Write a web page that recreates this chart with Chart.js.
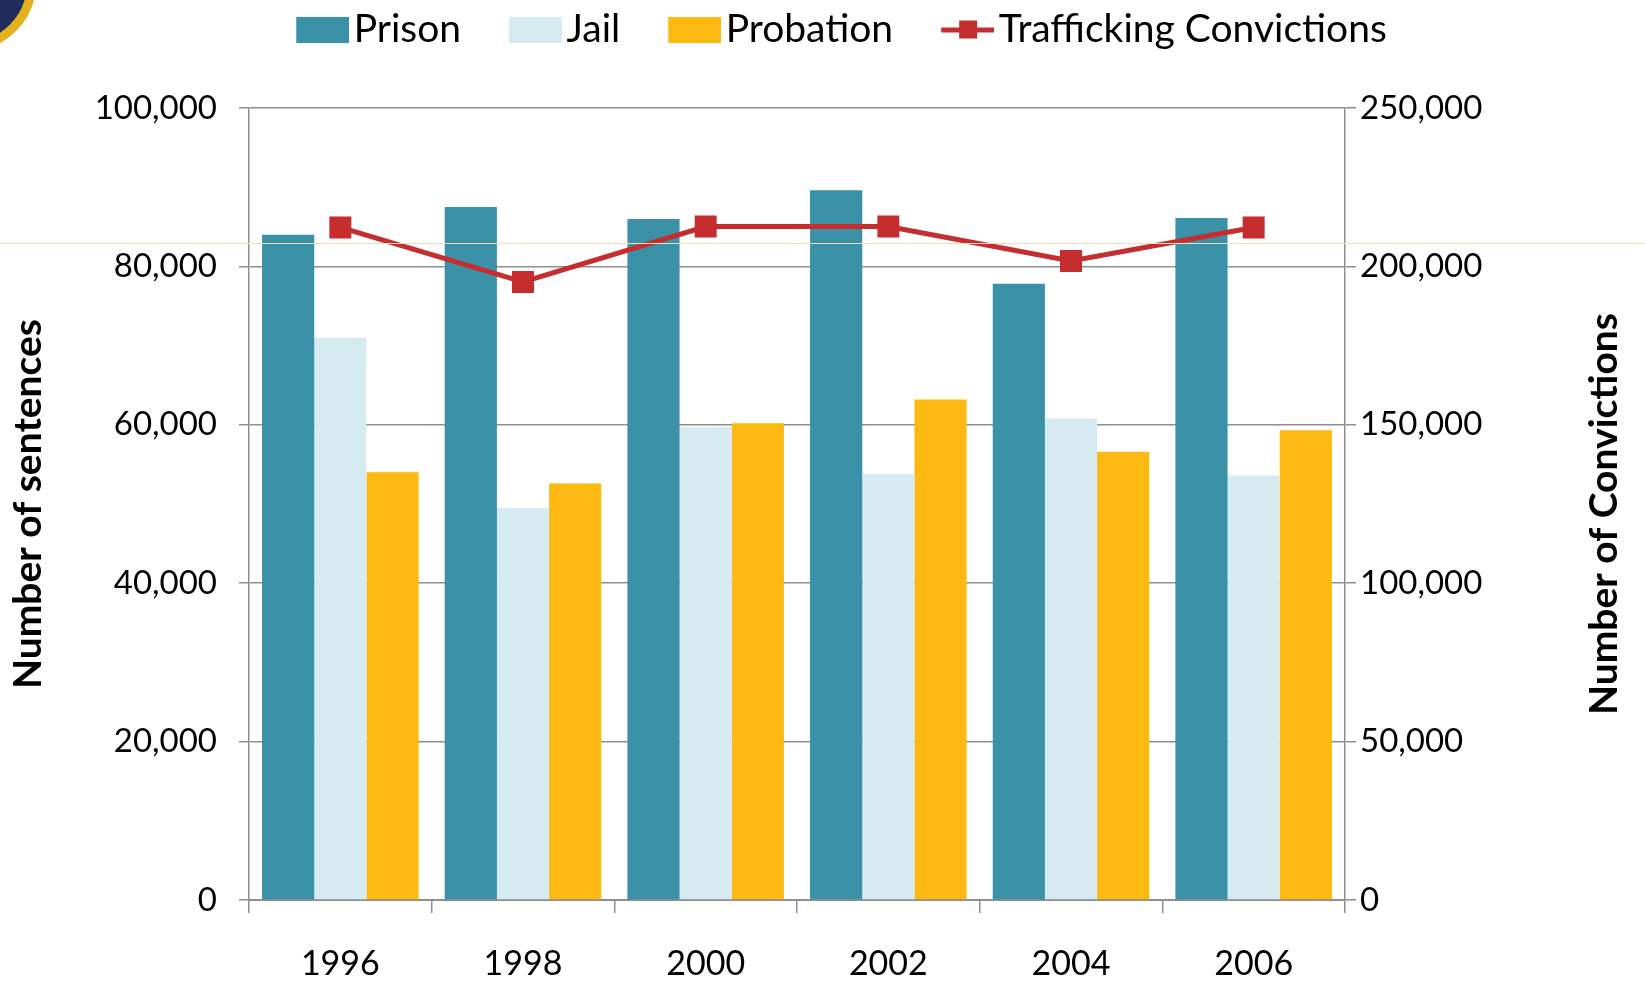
<!DOCTYPE html>
<html>
<head>
<meta charset="utf-8">
<script src="https://cdn.jsdelivr.net/npm/chart.js@4.4.1/dist/chart.umd.min.js"></script>
<style>
  html, body { margin: 0; padding: 0; background: #fff; }
  #wrap { position: relative; width: 1645px; height: 985px; overflow: hidden; }
  #seal { position: absolute; left: -100px; top: -85px; width: 118px; height: 118px; border-radius: 50%;
          background: #1f2d5c; border: 9px solid #e3b21e; }
  #guide { position: absolute; left: 0; top: 243px; width: 1645px; height: 1px; background: #efe0b4; }
  canvas { position: absolute; left: 0; top: 0; }
</style>
</head>
<body>
<div id="wrap">
  <div id="seal"></div>
  <canvas id="chart" width="1645" height="985"></canvas>
  <div id="guide"></div>
</div>
<script>
const years = ['1996', '1998', '2000', '2002', '2004', '2006'];
const prison = [84000, 87500, 86000, 89600, 77800, 86100];
const jail = [71000, 49500, 59700, 53800, 60800, 53600];
const probation = [54000, 52600, 60200, 63200, 56600, 59300];
const convictions = [212300, 195100, 212600, 212600, 201700, 212300];

const FONT = 'Lato, "Open Sans", sans-serif';
const RED = '#c62d2f';
const GRID = '#8f8f8f';
const MARK_W = 76; // legend slot width; the 53px box sits at its right end, close to the text

// legend marker canvases: centred on the slot, so the visible box is drawn in the right half
function legendMark(color, isLine) {
    const c = document.createElement('canvas');
    c.width = 106;
    c.height = 26;
    const g = c.getContext('2d');
    g.fillStyle = color;
    if (isLine) {
        g.fillRect(53, 11, 53, 5);
        g.fillRect(53 + 18, 4, 18, 18);
    } else {
        g.fillRect(53, 0, 53, 26);
    }
    return c;
}

function fmt(v) {
    return Number(v).toLocaleString('en-US');
}

// right axis title reads bottom-to-top like the left one
const rightTitle = {
    id: 'rightTitle',
    afterDraw(chart) {
        const a = chart.chartArea;
        const c = chart.ctx;
        c.save();
        c.translate(1604, (a.top + a.bottom) / 2 + 10);
        c.rotate(-Math.PI / 2);
        c.font = 'bold 39px ' + FONT;
        c.fillStyle = '#000';
        c.textAlign = 'center';
        c.textBaseline = 'middle';
        c.fillText('Number of Convictions', 0, 0);
        c.restore();
    }
};

const colors = ['#3a91a8', '#d5ebf1', '#fdb811', RED];
const marks = colors.map((col, i) => legendMark(col, i === 3));

const ctx = document.getElementById('chart');
window.myChart = new Chart(ctx, {
    data: {
        labels: years,
        datasets: [
            { type: 'bar', label: 'Prison', data: prison, backgroundColor: colors[0], order: 1, yAxisID: 'y' },
            { type: 'bar', label: 'Jail', data: jail, backgroundColor: colors[1], order: 1, yAxisID: 'y' },
            { type: 'bar', label: 'Probation', data: probation, backgroundColor: colors[2], order: 1, yAxisID: 'y' },
            {
                type: 'line', label: 'Trafficking Convictions', data: convictions, yAxisID: 'y1', order: 0,
                borderColor: RED, backgroundColor: RED, borderWidth: 5,
                pointStyle: 'rect', pointRadius: 12, pointHoverRadius: 12
            }
        ]
    },
    options: {
        responsive: false,
        animation: false,
        layout: { padding: 0 },
        datasets: {
            bar: { categoryPercentage: 0.857, barPercentage: 1.0 }
        },
        plugins: {
            legend: {
                position: 'top',
                weight: 1000,
                labels: {
                    font: { family: FONT, size: 39 },
                    color: '#000',
                    usePointStyle: true,
                    pointStyleWidth: MARK_W,
                    boxHeight: 26,
                    padding: 10,
                    sort: (a, b) => a.datasetIndex - b.datasetIndex,
                    generateLabels: (chart) => {
                        const items = Chart.defaults.plugins.legend.labels.generateLabels(chart);
                        items.forEach(it => {
                            it.pointStyle = marks[it.datasetIndex];
                            it.lineWidth = 0;
                        });
                        return items;
                    }
                }
            },
            // empty title used as a spacer between legend and plot
            title: { display: true, text: ' ', weight: 500, position: 'top', font: { size: 20 }, padding: { top: 0, bottom: 25 } },
            tooltip: { enabled: false }
        },
        scales: {
            x: {
                grid: { display: true, drawOnChartArea: false, drawTicks: true, tickLength: 13, color: GRID, lineWidth: 1.5, offset: true },
                border: { display: true, color: GRID, width: 2 },
                ticks: { font: { family: FONT, size: 34 }, color: '#000', padding: 31 },
                afterFit: (s) => { s.height = 85; }
            },
            y: {
                position: 'left',
                min: 0, max: 100000,
                ticks: { stepSize: 20000, callback: fmt, font: { family: FONT, size: 33 }, color: '#000', padding: 22 },
                grid: { color: GRID, lineWidth: 1.5, tickLength: 10 },
                border: { display: true, color: GRID, width: 1.5 },
                title: { display: true, text: 'Number of sentences', font: { family: FONT, size: 39, weight: 'bold' }, color: '#000', padding: { top: 5, bottom: 0 } },
                afterFit: (s) => { s.width = 249; }
            },
            y1: {
                position: 'right',
                min: 0, max: 250000,
                ticks: { stepSize: 50000, callback: fmt, font: { family: FONT, size: 33 }, color: '#000', padding: 4 },
                grid: { drawOnChartArea: false, color: GRID, lineWidth: 1.5, tickLength: 11 },
                border: { display: true, color: GRID, width: 1.5 },
                afterFit: (s) => { s.width = 300; }
            }
        }
    },
    plugins: [rightTitle]
});
</script>
</body>
</html>
